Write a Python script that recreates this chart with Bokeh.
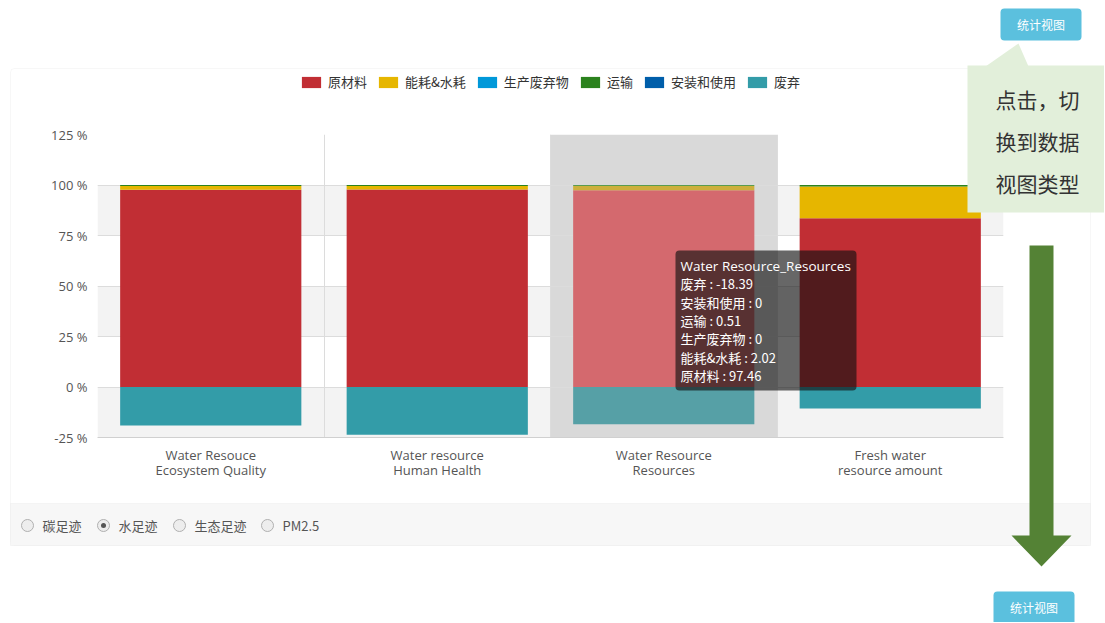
import numpy as np
from bokeh.plotting import figure
from bokeh.models import (ColumnDataSource, FixedTicker, BoxAnnotation, Label, Legend, LegendItem,
                          Range1d, GridBox)
from bokeh.embed import file_html
from bokeh.resources import INLINE

# ---------------- data ----------------
categories = ["Water Resouce\nEcosystem Quality", "Water resource\nHuman Health",
              "Water Resource\nResources", "Fresh water\nresource amount"]
series_names = ["原材料", "能耗&水耗", "生产废弃物", "运输", "安装和使用", "废弃"]
raw_material = [97.6, 97.8, 97.46, 83.5]
energy_water = [1.9, 1.7, 2.02, 15.8]
production_waste = [0, 0, 0, 0]
transport = [0.5, 0.5, 0.51, 0.7]
install_use = [0, 0, 0, 0]
disposal = [-19.1, -23.6, -18.39, -10.6]
y_ticks = [-25, 0, 25, 50, 75, 100, 125]
radio_labels = ["碳足迹", "水足迹", "生态足迹", "PM2.5"]
radio_selected = 1
tooltip_title = "Water Resource_Resources"
hover_index = 2
callout_lines = ["点击，切", "换到数据", "视图类型"]
button_text = "统计视图"

colors = ["#c12e34", "#e6b600", "#0098d9", "#2b821d", "#005eaa", "#339ca8"]
emph_colors = ["#d4696e", "#cdb03c", "#4db3e0", "#5a9c50", "#4d86bf", "#56a0a6"]

series_values = [raw_material, energy_water, production_waste, transport, install_use, disposal]

# ---------------- geometry (page pixels) ----------------
W, H = 1104, 622
FL, FT, FR, FB = 97, 134, 1003, 437  # chart frame

CJK = "Noto Sans CJK SC"
LAT = "Open Sans"


def page_fig(bg_white):
    f = figure(width=W, height=H, x_range=Range1d(0, W), y_range=Range1d(H, 0),
               output_backend="svg", toolbar_location=None, min_border=0,
               x_axis_location=None, y_axis_location=None, frame_align=False)
    f.xgrid.grid_line_color = None
    f.ygrid.grid_line_color = None
    f.outline_line_color = None
    if bg_white:
        f.background_fill_color = "white"
        f.border_fill_color = "white"
    else:
        f.background_fill_color = None
        f.border_fill_color = None
    return f


# ============ base layer: container, legend, radio buttons ============
base = page_fig(True)
base.add_layout(BoxAnnotation(left=10, right=1090, top=68, bottom=545, fill_color="white", fill_alpha=1,
                              line_color="#e3e3e3", line_width=1, border_radius=4, level="image"))
base.add_layout(BoxAnnotation(left=10, right=1090, top=503, bottom=545, fill_color="#f7f7f7",
                              fill_alpha=1, line_color="#e3e3e3", line_width=1, level="image"))

# legend proxies (zero-size bars, only their colour is used by the legend)
legend_renderers = [base.vbar(x=[0], bottom=[0], top=[0], width=0, fill_color=c, line_color=None)
                    for c in colors]
legend = Legend(items=[LegendItem(label=n, renderers=[r]) for n, r in zip(series_names, legend_renderers)],
                orientation="horizontal", location=(299, H - 91),
                glyph_width=24, glyph_height=14, label_height=14, label_standoff=5, spacing=9,
                padding=0, margin=0, border_line_color=None, background_fill_alpha=0,
                label_text_font_size="13px", label_text_color="#333333", label_text_font=CJK)
base.add_layout(legend)

radio_x = [27, 103, 179, 267]
radio_y = 525
base.scatter(x=radio_x, y=[radio_y] * len(radio_x), size=12, marker="circle",
             fill_color="#ededed", line_color="#b0b0b0", line_width=1)
base.scatter(x=[radio_x[radio_selected]], y=[radio_y], size=5, marker="circle",
             fill_color="#555555", line_color=None)
for rx, lab in zip(radio_x, radio_labels):
    base.add_layout(Label(x=rx + 15, y=radio_y, text=lab, text_color="#555555", text_font_size="13px",
                          text_font=CJK, text_baseline="middle", text_align="left"))

# ============ chart layer ============
chart = figure(width=W, height=H, x_range=Range1d(0, len(categories)),
               y_range=Range1d(y_ticks[0], y_ticks[-1]),
               output_backend="svg", toolbar_location=None, frame_align=False,
               min_border_left=FL, min_border_right=W - FR,
               min_border_top=FT, min_border_bottom=H - FB)
chart.outline_line_color = None
chart.background_fill_color = None
chart.border_fill_color = None

for i in range(0, len(y_ticks) - 1, 2):
    chart.add_layout(BoxAnnotation(bottom=y_ticks[i], top=y_ticks[i + 1], fill_color="#f3f3f3",
                                   fill_alpha=1, line_color=None, level="image"))
chart.add_layout(BoxAnnotation(left=hover_index, right=hover_index + 1, fill_color="#d9d9d9",
                               fill_alpha=1, line_color=None, level="image"))

chart.ygrid.ticker = FixedTicker(ticks=y_ticks)
chart.ygrid.grid_line_color = "#dcdcdc"
chart.xgrid.ticker = FixedTicker(ticks=list(range(1, len(categories))))
chart.xgrid.grid_line_color = "#dcdcdc"

xs = np.arange(len(categories)) + 0.5
pos_base = np.zeros(len(categories))
for k, (name, vals) in enumerate(zip(series_names, series_values)):
    v = np.array(vals, dtype=float)
    if name == "废弃":
        bottom, top = v, np.zeros_like(v)
    else:
        bottom, top = pos_base.copy(), pos_base + v
        pos_base = top
    cols = [emph_colors[k] if i == hover_index else colors[k] for i in range(len(categories))]
    src = ColumnDataSource(dict(x=xs, bottom=bottom, top=top, color=cols))
    chart.vbar(x="x", width=0.8, bottom="bottom", top="top", fill_color="color",
               line_color=None, source=src)

chart.yaxis.ticker = FixedTicker(ticks=y_ticks)
chart.yaxis.major_label_overrides = {t: f"{t} %" for t in y_ticks}
chart.yaxis.axis_line_color = None
chart.yaxis.major_tick_line_color = None
chart.yaxis.major_tick_out = 0
chart.yaxis.major_tick_in = 0
chart.yaxis.minor_tick_line_color = None
chart.yaxis.major_label_text_font_size = "13px"
chart.yaxis.major_label_text_color = "#555555"
chart.yaxis.major_label_text_font = LAT
chart.yaxis.major_label_standoff = 10

chart.xaxis.ticker = FixedTicker(ticks=list(xs))
chart.xaxis.major_label_overrides = {float(x): c for x, c in zip(xs, categories)}
chart.xaxis.axis_line_color = "#d0d0d0"
chart.xaxis.major_tick_line_color = None
chart.xaxis.major_tick_out = 0
chart.xaxis.major_tick_in = 0
chart.xaxis.minor_tick_line_color = None
chart.xaxis.major_label_text_font_size = "13px"
chart.xaxis.major_label_text_color = "#555555"
chart.xaxis.major_label_text_font = LAT
chart.xaxis.major_label_text_line_height = 0.88
chart.xaxis.major_label_standoff = 8

# ============ top layer: tooltip, callout, arrow, buttons ============
top_fig = page_fig(False)
top_fig.add_layout(BoxAnnotation(left=675, right=856, top=250, bottom=390, fill_color="#111111",
                                 fill_alpha=0.64, line_color=None, border_radius=4, level="overlay"))
tip_lines = [tooltip_title] + [f"{n} : {series_values[k][hover_index]:g}"
                               for k, n in reversed(list(enumerate(series_names)))]
for j, t in enumerate(tip_lines):
    top_fig.add_layout(Label(x=680, y=265 + j * 18.3, text=t, text_color="white",
                             text_font_size="13.5px" if j == 0 else "13px",
                             text_font=CJK if j else LAT,
                             text_baseline="middle", text_align="left", level="overlay"))

top_fig.add_layout(BoxAnnotation(left=967, right=1110, top=65, bottom=212, fill_color="#e2efda",
                                 fill_alpha=1, line_color=None, level="overlay"))
top_fig.patch(x=[985, 1018, 1028], y=[66, 43, 66], fill_color="#e2efda", line_color=None)
for j, t in enumerate(callout_lines):
    top_fig.add_layout(Label(x=995, y=98 + j * 42, text=t, text_color="#333333",
                             text_font_size="21px", text_font=CJK, text_baseline="middle",
                             text_align="left", level="overlay"))

top_fig.patch(x=[1029, 1053, 1053, 1071, 1041, 1011, 1029],
              y=[245, 245, 535, 535, 566, 535, 535], fill_color="#548235", line_color=None)

for (bl, br, bt, bb, ty) in [(1000, 1081, 8, 40, 24), (993, 1074, 591, 630, 607)]:
    top_fig.add_layout(BoxAnnotation(left=bl, right=br, top=bt, bottom=bb, fill_color="#5bc0de",
                                     fill_alpha=1, line_color=None, border_radius=4, level="overlay"))
    top_fig.add_layout(Label(x=(bl + br) / 2, y=ty, text=button_text, text_color="white",
                             text_font_size="12px", text_font=CJK, text_align="center",
                             text_baseline="middle", level="overlay"))

layout = GridBox(children=[(base, 0, 0), (chart, 0, 0), (top_fig, 0, 0)])
open("out.html", "w").write(file_html(layout, INLINE))
